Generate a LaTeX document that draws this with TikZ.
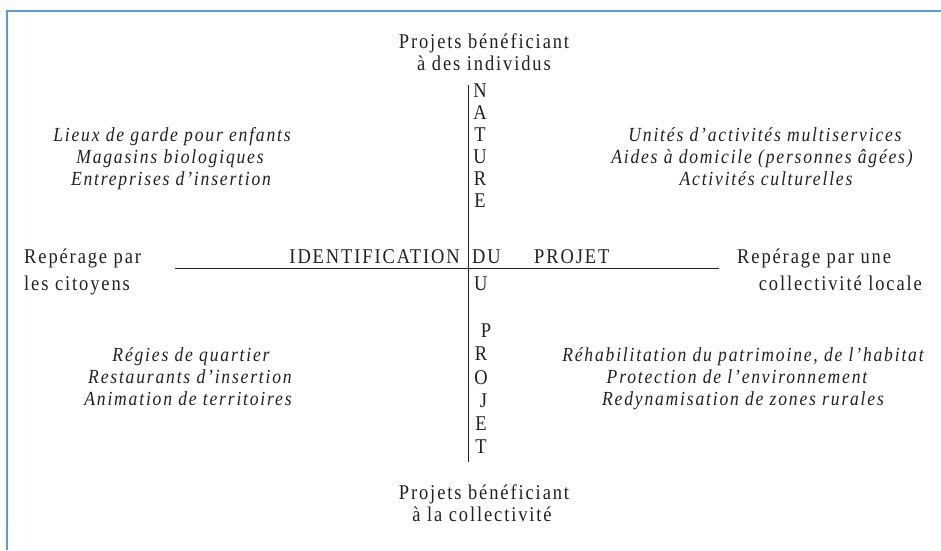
\documentclass[tikz,border=0pt]{standalone}
\usepackage{fontspec}
\setmainfont{Liberation Serif}[LetterSpace=9,FakeStretch=0.88]
\definecolor{framecol}{HTML}{5B9BD5}
\definecolor{ink}{HTML}{231F20}
\begin{document}
\begin{tikzpicture}[x=1pt,y=-1pt,
  txt/.style={inner sep=0pt,anchor=base,text=ink,font=\fontsize{21}{22}\selectfont},
  txtw/.style={txt,anchor=base west},
  txte/.style={txt,anchor=base east},
  ital/.style={txt,font=\fontsize{20}{22}\selectfont\itshape},
  axis/.style={draw=ink,line width=1pt},
  frame/.style={draw=framecol,line width=2pt}]
\useasboundingbox (0,0) rectangle (941,550);
% frame
\coordinate (f1) at (7,550);
\coordinate (f2) at (7,11);
\coordinate (f3) at (941,11);
\draw[frame] (f1) -- (f2) -- (f3);
% axes
\coordinate (vtop) at (468,85);
\coordinate (vbot) at (468,462);
\coordinate (hl) at (175,268);
\coordinate (hr) at (719,268);
\draw[axis] (vtop) -- (vbot);
\draw[axis] (hl) -- (hr);
% top and bottom titles
\node[txt] (t1) at (484,48) {Projets bénéficiant};
\node[txt] (t2) at (484,70) {à des individus};
\node[txt] (b1) at (484,499) {Projets bénéficiant};
\node[txt] (b2) at (482,521) {à la collectivité};
% NATURE
\foreach \l [count=\i] in {N,A,T,U,R,E}
  \node[txt] (n\i) at (480,{97+22*(\i-1)}) {\l};
% horizontal labels
\node[txte] (ident) at (460,263) {IDENTIFICATION};
\node[txtw] (du) at (472,263) {DU};
\node[txtw] (proj) at (534,263) {PROJET};
\node[txtw] (u) at (474,290) {U};
\node[txtw] (l1) at (24,263) {Repérage par};
\node[txtw] (l2) at (24,290) {les citoyens};
\node[txtw] (r1) at (737,263) {Repérage par une};
\node[txte] (r2) at (922,290) {collectivité locale};
% PROJET
\node[txt] (p1) at (486,337) {P};
\node[txt] (p2) at (481,360) {R};
\node[txt] (p3) at (481,384) {O};
\node[txt] (p4) at (483.5,407) {J};
\node[txt] (p5) at (481,430) {E};
\node[txt] (p6) at (481,453) {T};
% quadrants
\node[ital] (tl1) at (172,141) {Lieux de garde pour enfants};
\node[ital] (tl2) at (170,163) {Magasins biologiques};
\node[ital] (tl3) at (171,185) {Entreprises d’insertion};
\node[ital] (tr1) at (765,141) {Unités d’activités multiservices};
\node[ital] (tr2) at (762,163) {Aides à domicile (personnes âgées)};
\node[ital] (tr3) at (766,185) {Activités culturelles};
\node[ital] (bl1) at (191,361) {Régies de quartier};
\node[ital] (bl2) at (190,383) {Restaurants d’insertion};
\node[ital] (bl3) at (188,405) {Animation de territoires};
\node[ital] (br1) at (743,361) {Réhabilitation du patrimoine, de l’habitat};
\node[ital] (br2) at (737,383) {Protection de l’environnement};
\node[ital] (br3) at (743,405) {Redynamisation de zones rurales};
\end{tikzpicture}
\end{document}
